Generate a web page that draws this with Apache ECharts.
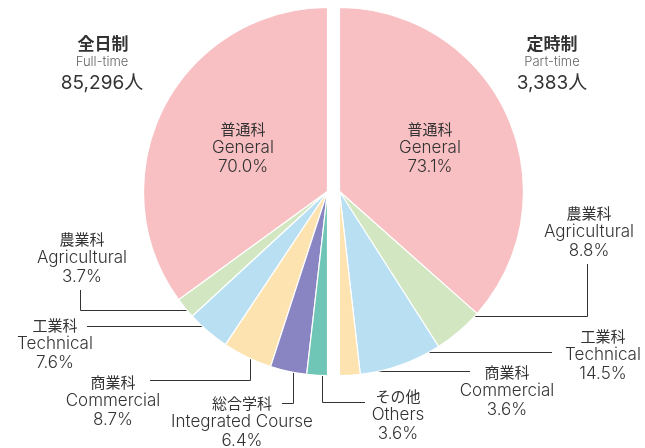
<!DOCTYPE html>
<html><head><meta charset="utf-8">
<script src="https://cdn.jsdelivr.net/npm/echarts@6/dist/echarts.min.js"></script>
<style>html,body{margin:0;padding:0;background:#fff}#c{width:645px;height:448px}</style>
</head><body><div id="c"></div>
<script>
// ---- data ----
const fullTimeJa = ['普通科','農業科','工業科','商業科','総合学科','その他'];
const fullTimeEn = ['General','Agricultural','Technical','Commercial','Integrated Course','Others'];
const fullTimeValues = [70.0, 3.7, 7.6, 8.7, 6.4, 3.6];
const partTimeJa = ['普通科','農業科','工業科','商業科'];
const partTimeEn = ['General','Agricultural','Technical','Commercial'];
const partTimeValues = [73.1, 8.8, 14.5, 3.6];
const groupJa = ['全日制','定時制'];
const groupEn = ['Full-time','Part-time'];
const groupTotals = ['85,296人','3,383人'];

// ---- styles / layout ----
const colorMap = {'普通科':'#f8c0c3','農業科':'#d2e7c1','工業科':'#b8e0f2','商業科':'#fde3b0','総合学科':'#8985c2','その他':'#6fc5b6'};
const FONT = "Inter,'Noto Sans CJK JP',sans-serif";
const TXT = '#333';
const R = 184, CY = 191.5;
const leftLayout = [
  {x:243, y:148},
  {x:82,  y:258, line:[[188,310.5],[80.5,310.5],[80.5,290]]},
  {x:55,  y:344, line:[[209,326.5],[148,326.5],[87,326.5]]},
  {x:113, y:401, line:[[250.5,355],[250.5,380.5],[150,380.5]]},
  {x:242, y:422, line:[[293.5,373],[293.5,403.5],[282,403.5]]},
  {x:398, y:415, line:[[322.5,373],[322.5,402.5],[365,402.5]]}
];
const rightLayout = [
  {x:430, y:148},
  {x:589, y:232, line:[[455,316.5],[587.5,316.5],[587.5,264]]},
  {x:603, y:355, line:[[397,352.5],[475,352.5],[552,352.5]]},
  {x:507, y:391, line:[[352.5,358],[352.5,371.5],[470,371.5]]}
];

function buildData(ja, en, vals){
  return vals.map((v,i)=>({
    name: ja[i], value: v, en: en[i],
    itemStyle:{color: colorMap[ja[i]]},
    labelLine:{show: i !== 0}
  }));
}
function makeLayout(lay){
  return function(p){
    const l = lay[p.dataIndex];
    const o = {x:l.x, y:l.y, align:'center', verticalAlign:'middle'};
    if (l.line) o.labelLinePoints = l.line;
    return o;
  };
}
const labelCfg = {
  show:true,
  formatter: p => '{ja|' + p.name + '}\n{en|' + p.data.en + '}\n{en|' + p.value.toFixed(1) + '%}',
  align:'center',
  rich:{
    ja:{fontSize:15, lineHeight:19, color:TXT, fontFamily:"'Noto Sans CJK JP',sans-serif", align:'center'},
    en:{fontSize:17, lineHeight:19, color:TXT, fontFamily:FONT, fontWeight:300, align:'center'}
  }
};
const lineCfg = {show:true, lineStyle:{color:'#333', width:1}, smooth:false};

const chart = echarts.init(document.getElementById('c'), null, {renderer:'canvas'});
chart.setOption({
  animation:false,
  backgroundColor:'#fff',
  graphic:[
    {type:'text', x:103, y:44, style:{text:groupJa[0], font:"bold 17px 'Noto Sans CJK JP',sans-serif", fill:TXT, align:'center', verticalAlign:'middle'}},
    {type:'text', x:102, y:62, style:{text:groupEn[0], font:"300 13px "+FONT, fill:'#666', align:'center', verticalAlign:'middle'}},
    {type:'text', x:102, y:83, style:{text:groupTotals[0], font:"19px "+FONT, fill:TXT, align:'center', verticalAlign:'middle'}},
    {type:'text', x:552, y:44, style:{text:groupJa[1], font:"bold 17px 'Noto Sans CJK JP',sans-serif", fill:TXT, align:'center', verticalAlign:'middle'}},
    {type:'text', x:552, y:62, style:{text:groupEn[1], font:"300 13px "+FONT, fill:'#666', align:'center', verticalAlign:'middle'}},
    {type:'text', x:552, y:83, style:{text:groupTotals[1], font:"19px "+FONT, fill:TXT, align:'center', verticalAlign:'middle'}}
  ],
  series:[
    {
      type:'pie', center:[327.5, CY], radius:[0, R],
      startAngle:90, endAngle:270, clockwise:false,
      avoidLabelOverlap:false, silent:true,
      itemStyle:{borderColor:'#fff', borderWidth:1.2},
      label:labelCfg, labelLine:lineCfg,
      labelLayout: makeLayout(leftLayout),
      data: buildData(fullTimeJa, fullTimeEn, fullTimeValues)
    },
    {
      type:'pie', center:[339.5, CY], radius:[0, R],
      startAngle:90, endAngle:-90, clockwise:true,
      avoidLabelOverlap:false, silent:true,
      itemStyle:{borderColor:'#fff', borderWidth:1.2},
      label:labelCfg, labelLine:lineCfg,
      labelLayout: makeLayout(rightLayout),
      data: buildData(partTimeJa, partTimeEn, partTimeValues)
    }
  ]
});
</script></body></html>
